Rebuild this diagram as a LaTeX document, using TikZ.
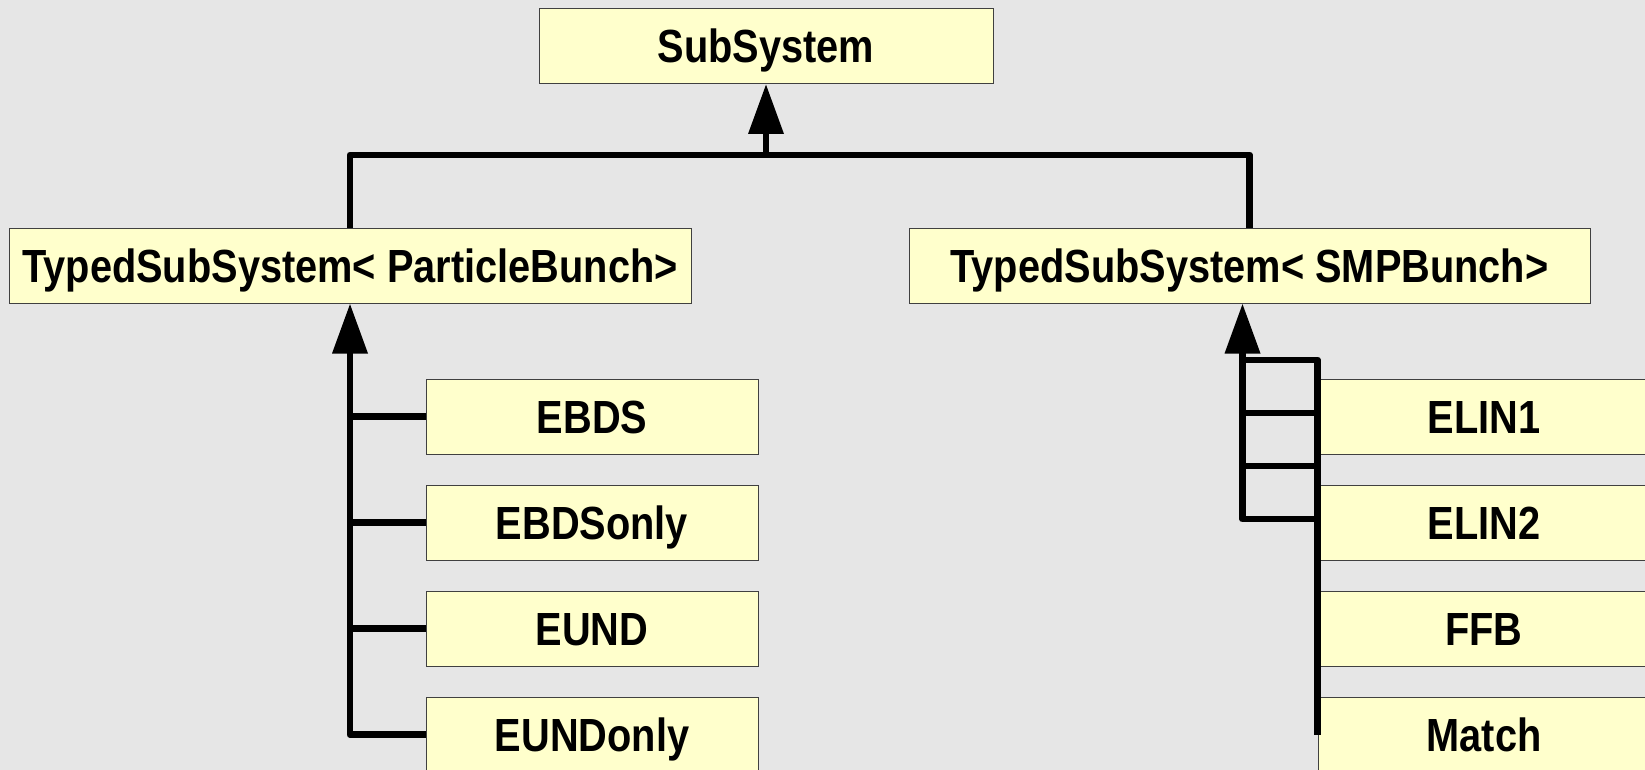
\documentclass[tikz,border=0pt]{standalone}
\usepackage{fontspec}
\setmainfont{Liberation Sans}[FakeStretch=0.855]
\usetikzlibrary{arrows.meta,calc}
\definecolor{bgc}{HTML}{E6E6E6}
\definecolor{boxc}{HTML}{FFFFCC}
\definecolor{edgec}{HTML}{404040}
\tikzset{
  cls/.style={draw=edgec, line width=1pt, fill=boxc, inner sep=0pt,
    minimum height=75pt, text height=33pt, text depth=0pt,
    font=\fontsize{46.5}{50}\selectfont\bfseries},
  leaf/.style={cls, minimum width=332pt},
  link/.style={line width=6.8pt, line join=round, draw=black},
  inh/.style={link, -{Triangle[width=34pt,length=50pt]}},
}
\begin{document}
\begin{tikzpicture}[x=1pt,y=-1pt]
\fill[bgc] (0,0) rectangle (1645,770);
\useasboundingbox (0,0) rectangle (1645,770);
\clip (0,0) rectangle (1645,770);

\node[cls, minimum width=454pt] (sub) at (766,46) {SubSystem};
\node[cls, minimum width=682pt] (tpb) at (350,265.5) {TypedSubSystem< ParticleBunch>};
\node[cls, minimum width=681pt] (tsmp) at (1249.5,265.5) {TypedSubSystem< SMPBunch>};

\node[leaf] (ebds) at (592,416.5) {EBDS};
\node[leaf] (ebdsonly) at (592,522.5) {EBDSonly};
\node[leaf] (eund) at (592,628.5) {EUND};
\node[leaf] (eundonly) at (592,734.5) {EUNDonly};

\node[leaf] (elin1) at (1484,416.5) {ELIN1};
\node[leaf] (elin2) at (1484,522.5) {ELIN2};
\node[leaf] (ffb) at (1484,628.5) {FFB};
\node[leaf] (match) at (1484,734.5) {Match};

% top level
\coordinate (j) at (766,155);
\draw[link] (tpb.north) |- (j) -| (tsmp.north);
\draw[inh] (j) -- (sub.south);

% left group
\draw[inh] (eundonly.west) -| (tpb.south);
\draw[link] (ebds.west) -- (ebds.west -| tpb.south);
\draw[link] (ebdsonly.west) -- (ebdsonly.west -| tpb.south);
\draw[link] (eund.west) -- (eund.west -| tpb.south);

% right group
\coordinate (ra) at ([xshift=-7pt]tsmp.south);
\draw[link] (match.west) -- (match.west |- 0,360) -- (ra |- 0,360) -- (ra |- 0,519) -- (match.west |- 0,519);
\draw[link] (ra |- 0,413) -- (elin1.west |- 0,413);
\draw[link] (ra |- 0,466) -- (elin1.west |- 0,466);
\draw[link] (ffb.west) -- (ffb.west |- 0,519);
\draw[inh] (ra |- 0,519) -- (ra);
\end{tikzpicture}
\end{document}
